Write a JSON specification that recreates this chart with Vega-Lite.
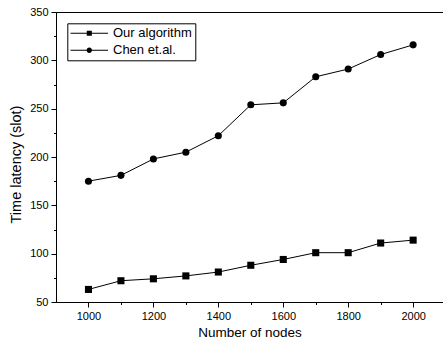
{
  "$schema": "https://vega.github.io/schema/vega-lite/v6.json",
  "width": 387,
  "height": 290,
  "autosize": {"type": "none"},
  "padding": {"left": 56, "top": 12, "right": 0, "bottom": 44},
  "background": "white",
  "config": {
    "font": "Liberation Sans",
    "view": {"stroke": "black", "strokeWidth": 1},
    "axis": {
      "domainColor": "black", "domainWidth": 1,
      "tickColor": "black", "tickWidth": 1,
      "labelColor": "black", "titleColor": "black",
      "labelFont": "Liberation Sans", "titleFont": "Liberation Sans",
      "labelFontSize": 11, "titleFontWeight": "normal", "grid": false,
      "labelOverlap": false
    }
  },
  "data": {
    "values": [
      {"series": "Our algorithm", "nodes": 1000, "latency": 63},
      {"series": "Our algorithm", "nodes": 1100, "latency": 72},
      {"series": "Our algorithm", "nodes": 1200, "latency": 74},
      {"series": "Our algorithm", "nodes": 1300, "latency": 77},
      {"series": "Our algorithm", "nodes": 1400, "latency": 81},
      {"series": "Our algorithm", "nodes": 1500, "latency": 88},
      {"series": "Our algorithm", "nodes": 1600, "latency": 94},
      {"series": "Our algorithm", "nodes": 1700, "latency": 101},
      {"series": "Our algorithm", "nodes": 1800, "latency": 101},
      {"series": "Our algorithm", "nodes": 1900, "latency": 111},
      {"series": "Our algorithm", "nodes": 2000, "latency": 114},
      {"series": "Chen et.al.", "nodes": 1000, "latency": 175},
      {"series": "Chen et.al.", "nodes": 1100, "latency": 181},
      {"series": "Chen et.al.", "nodes": 1200, "latency": 198},
      {"series": "Chen et.al.", "nodes": 1300, "latency": 205},
      {"series": "Chen et.al.", "nodes": 1400, "latency": 222},
      {"series": "Chen et.al.", "nodes": 1500, "latency": 254},
      {"series": "Chen et.al.", "nodes": 1600, "latency": 256},
      {"series": "Chen et.al.", "nodes": 1700, "latency": 283},
      {"series": "Chen et.al.", "nodes": 1800, "latency": 291},
      {"series": "Chen et.al.", "nodes": 1900, "latency": 306},
      {"series": "Chen et.al.", "nodes": 2000, "latency": 316}
    ]
  },
  "encoding": {
    "x": {
      "field": "nodes", "type": "quantitative",
      "scale": {"domain": [900, 2092], "nice": false, "zero": false},
      "axis": {
        "title": "Number of nodes", "titleFontSize": 13.5, "titlePadding": 4,
        "values": [1000, 1100, 1200, 1300, 1400, 1500, 1600, 1700, 1800, 1900, 2000],
        "labelExpr": "datum.value % 200 === 0 ? datum.label : ''",
        "format": "d",
        "tickSize": {"condition": {"test": "datum.value % 200 === 0", "value": 5}, "value": 2.5},
        "labelPadding": 3
      }
    },
    "y": {
      "field": "latency", "type": "quantitative",
      "scale": {"domain": [50, 350], "nice": false, "zero": false},
      "axis": {
        "title": "Time latency (slot)", "titleFontSize": 14.5, "titlePadding": 6,
        "titleY": 152,
        "values": [50, 75, 100, 125, 150, 175, 200, 225, 250, 275, 300, 325, 350],
        "labelExpr": "datum.value % 50 === 0 ? datum.label : ''",
        "tickSize": {"condition": {"test": "datum.value % 50 === 0", "value": 5}, "value": 2.5},
        "labelPadding": 3
      }
    }
  },
  "layer": [
    {
      "mark": {"type": "line", "color": "black", "strokeWidth": 1},
      "encoding": {"detail": {"field": "series"}}
    },
    {
      "mark": {"type": "point", "filled": true, "color": "black", "opacity": 1, "size": 50},
      "encoding": {
        "shape": {
          "field": "series", "type": "nominal",
          "scale": {"domain": ["Our algorithm", "Chen et.al."], "range": ["square", "circle"]},
          "legend": null
        }
      }
    },
    {
      "transform": [{"filter": "false"}],
      "mark": {"type": "point", "filled": true, "color": "black", "opacity": 1},
      "encoding": {
        "shape": {
          "field": "series", "type": "nominal",
          "scale": {
            "domain": ["Our algorithm", "Chen et.al."],
            "range": [
              "M-1.125,-0.09H5.125V0.09H-1.125ZM1.58,-0.42H2.42V0.42H1.58Z",
              "M-1.125,-0.09H5.125V0.09H-1.125ZM2.45,0A0.45,0.45,0,1,1,1.55,0A0.45,0.45,0,1,1,2.45,0Z"
            ]
          },
          "legend": {
            "orient": "none", "legendX": 11.3, "legendY": 11.3,
            "title": null, "strokeColor": "black", "padding": 3,
            "symbolSize": 144, "symbolFillColor": "black",
            "symbolOpacity": 1,
            "labelFont": "Liberation Sans", "labelFontSize": 13, "labelColor": "black",
            "labelOffset": 28.7, "rowPadding": 3
          }
        }
      }
    }
  ],
  "resolve": {"scale": {"shape": "independent"}}
}
